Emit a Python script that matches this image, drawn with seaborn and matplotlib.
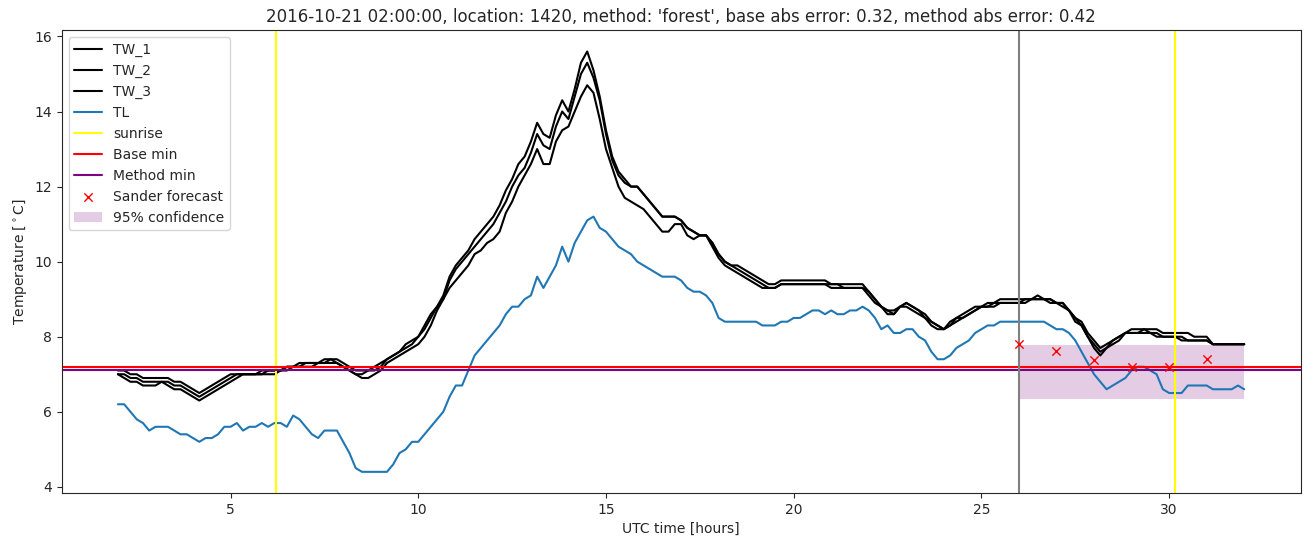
import numpy as np
import pandas as pd
import matplotlib
matplotlib.use("Agg")
import matplotlib.pyplot as plt
import seaborn as sns

# ---- data (10-minute steps from 2.0 h to 32.0 h) ----
t_start, t_end, t_step = 2.0, 32.0, 1 / 6

TW_1 = [
    7.1, 7.1, 7.0, 7.0, 6.9, 6.9,
    6.9, 6.9, 6.9, 6.8, 6.8, 6.7,
    6.6, 6.5, 6.6, 6.7, 6.8, 6.9,
    7.0, 7.0, 7.0, 7.0, 7.0, 7.1,
    7.1, 7.1, 7.1, 7.2, 7.2, 7.3,
    7.3, 7.3, 7.3, 7.4, 7.4, 7.4,
    7.3, 7.2, 7.1, 7.1, 7.1, 7.2,
    7.3, 7.4, 7.5, 7.6, 7.8, 7.9,
    8.0, 8.3, 8.6, 8.8, 9.1, 9.6,
    9.9, 10.1, 10.3, 10.6, 10.8, 11.0,
    11.2, 11.5, 11.9, 12.2, 12.6, 12.8,
    13.2, 13.7, 13.4, 13.3, 13.9, 14.3,
    14.0, 14.6, 15.3, 15.6, 15.1, 14.4,
    13.5, 12.8, 12.4, 12.2, 12.0, 12.0,
    11.8, 11.6, 11.4, 11.2, 11.2, 11.2,
    11.1, 10.9, 10.8, 10.7, 10.7, 10.5,
    10.2, 10.0, 9.9, 9.9, 9.8, 9.7,
    9.6, 9.5, 9.4, 9.4, 9.5, 9.5,
    9.5, 9.5, 9.5, 9.5, 9.5, 9.5,
    9.4, 9.4, 9.4, 9.4, 9.4, 9.4,
    9.2, 9.0, 8.8, 8.7, 8.7, 8.8,
    8.9, 8.8, 8.7, 8.6, 8.4, 8.3,
    8.2, 8.4, 8.5, 8.6, 8.7, 8.8,
    8.8, 8.9, 8.9, 9.0, 9.0, 9.0,
    9.0, 9.0, 9.0, 9.1, 9.0, 9.0,
    8.9, 8.9, 8.7, 8.5, 8.4, 8.1,
    7.9, 7.7, 7.8, 7.9, 8.0, 8.1,
    8.2, 8.2, 8.2, 8.2, 8.2, 8.1,
    8.1, 8.1, 8.1, 8.1, 8.0, 8.0,
    8.0, 7.8, 7.8, 7.8, 7.8, 7.8,
    7.8,
]

TW_2 = [
    7.0, 7.0, 6.9, 6.9, 6.8, 6.8,
    6.8, 6.8, 6.8, 6.7, 6.7, 6.6,
    6.5, 6.4, 6.5, 6.6, 6.7, 6.8,
    6.9, 7.0, 7.0, 7.0, 7.0, 7.0,
    7.1, 7.1, 7.1, 7.2, 7.2, 7.2,
    7.3, 7.3, 7.3, 7.3, 7.4, 7.3,
    7.2, 7.1, 7.0, 7.0, 7.1, 7.1,
    7.2, 7.4, 7.5, 7.6, 7.7, 7.8,
    8.0, 8.2, 8.5, 8.8, 9.0, 9.5,
    9.8, 10.0, 10.2, 10.4, 10.6, 10.8,
    11.0, 11.3, 11.6, 12.0, 12.3, 12.5,
    12.9, 13.4, 13.1, 13.0, 13.6, 14.0,
    13.8, 14.4, 15.0, 15.3, 14.9, 14.3,
    13.4, 12.7, 12.3, 12.1, 12.0, 12.0,
    11.8, 11.6, 11.4, 11.2, 11.2, 11.2,
    11.1, 10.9, 10.8, 10.7, 10.7, 10.5,
    10.2, 10.0, 9.9, 9.8, 9.7, 9.6,
    9.5, 9.4, 9.3, 9.3, 9.4, 9.4,
    9.4, 9.4, 9.4, 9.4, 9.4, 9.4,
    9.4, 9.4, 9.3, 9.3, 9.3, 9.3,
    9.2, 9.0, 8.8, 8.7, 8.6, 8.8,
    8.9, 8.8, 8.7, 8.5, 8.4, 8.3,
    8.2, 8.3, 8.4, 8.5, 8.6, 8.7,
    8.8, 8.8, 8.9, 8.9, 8.9, 8.9,
    8.9, 9.0, 9.0, 9.0, 9.0, 9.0,
    8.9, 8.9, 8.7, 8.5, 8.3, 8.0,
    7.8, 7.6, 7.7, 7.9, 8.0, 8.1,
    8.1, 8.1, 8.2, 8.1, 8.1, 8.0,
    8.0, 8.0, 8.0, 7.9, 7.9, 7.9,
    7.9, 7.8, 7.8, 7.8, 7.8, 7.8,
    7.8,
]

TW_3 = [
    7.0, 6.9, 6.8, 6.8, 6.7, 6.7,
    6.7, 6.8, 6.7, 6.6, 6.6, 6.5,
    6.4, 6.3, 6.4, 6.5, 6.6, 6.7,
    6.8, 6.9, 7.0, 7.0, 7.0, 7.0,
    7.0, 7.0, 7.1, 7.1, 7.2, 7.2,
    7.2, 7.2, 7.3, 7.3, 7.3, 7.3,
    7.2, 7.1, 7.0, 6.9, 6.9, 7.0,
    7.1, 7.3, 7.4, 7.5, 7.6, 7.7,
    7.8, 8.0, 8.3, 8.7, 9.0, 9.3,
    9.5, 9.7, 9.9, 10.2, 10.3, 10.5,
    10.6, 10.8, 11.3, 11.6, 12.0, 12.3,
    12.6, 13.0, 12.6, 12.6, 13.2, 13.5,
    13.6, 14.0, 14.4, 14.7, 14.5, 13.8,
    13.0, 12.5, 12.0, 11.7, 11.6, 11.5,
    11.4, 11.2, 11.0, 10.8, 10.8, 11.0,
    11.0, 10.7, 10.6, 10.7, 10.7, 10.4,
    10.1, 9.9, 9.8, 9.7, 9.6, 9.5,
    9.4, 9.3, 9.3, 9.3, 9.4, 9.4,
    9.4, 9.4, 9.4, 9.4, 9.4, 9.4,
    9.3, 9.3, 9.3, 9.3, 9.3, 9.3,
    9.1, 8.9, 8.8, 8.6, 8.6, 8.8,
    8.8, 8.7, 8.6, 8.5, 8.3, 8.2,
    8.2, 8.3, 8.5, 8.5, 8.6, 8.7,
    8.8, 8.8, 8.8, 8.9, 8.9, 8.9,
    8.9, 8.9, 9.0, 9.0, 9.0, 8.9,
    8.9, 8.8, 8.7, 8.4, 8.3, 8.0,
    7.7, 7.5, 7.7, 7.8, 7.9, 8.1,
    8.1, 8.1, 8.1, 8.1, 8.0, 8.0,
    8.0, 8.0, 7.9, 7.9, 7.9, 7.9,
    7.9, 7.8, 7.8, 7.8, 7.8, 7.8,
    7.8,
]

TL = [
    6.2, 6.2, 6.0, 5.8, 5.7, 5.5,
    5.6, 5.6, 5.6, 5.5, 5.4, 5.4,
    5.3, 5.2, 5.3, 5.3, 5.4, 5.6,
    5.6, 5.7, 5.5, 5.6, 5.6, 5.7,
    5.6, 5.7, 5.7, 5.6, 5.9, 5.8,
    5.6, 5.4, 5.3, 5.5, 5.5, 5.5,
    5.2, 4.9, 4.5, 4.4, 4.4, 4.4,
    4.4, 4.4, 4.6, 4.9, 5.0, 5.2,
    5.2, 5.4, 5.6, 5.8, 6.0, 6.4,
    6.7, 6.7, 7.1, 7.5, 7.7, 7.9,
    8.1, 8.3, 8.6, 8.8, 8.8, 9.0,
    9.1, 9.6, 9.3, 9.6, 9.9, 10.4,
    10.0, 10.5, 10.8, 11.1, 11.2, 10.9,
    10.8, 10.6, 10.4, 10.3, 10.2, 10.0,
    9.9, 9.8, 9.7, 9.6, 9.6, 9.6,
    9.5, 9.3, 9.2, 9.2, 9.1, 8.9,
    8.5, 8.4, 8.4, 8.4, 8.4, 8.4,
    8.4, 8.3, 8.3, 8.3, 8.4, 8.4,
    8.5, 8.5, 8.6, 8.7, 8.7, 8.6,
    8.7, 8.6, 8.6, 8.7, 8.7, 8.8,
    8.7, 8.5, 8.2, 8.3, 8.1, 8.1,
    8.2, 8.2, 8.0, 7.9, 7.6, 7.4,
    7.4, 7.5, 7.7, 7.8, 7.9, 8.1,
    8.2, 8.3, 8.3, 8.4, 8.4, 8.4,
    8.4, 8.4, 8.4, 8.4, 8.4, 8.3,
    8.2, 8.2, 8.1, 7.9, 7.6, 7.3,
    7.0, 6.8, 6.6, 6.7, 6.8, 6.9,
    7.1, 7.2, 7.2, 7.1, 7.0, 6.6,
    6.5, 6.5, 6.5, 6.7, 6.7, 6.7,
    6.7, 6.6, 6.6, 6.6, 6.6, 6.7,
    6.6,
]

sunrise_hours = [6.2, 30.15]
forecast_time = 26.0
base_min = 7.2
method_min = 7.1
sander_hours = [26, 27, 28, 29, 30, 31]
sander_values = [7.81, 7.63, 7.39, 7.2, 7.2, 7.41]
conf_hours = [26.0, 32.0]
conf_low = [6.35, 6.35]
conf_high = [7.78, 7.78]

title = "2016-10-21 02:00:00, location: 1420, method: 'forest', base abs error: 0.32, method abs error: 0.42"

# ---- plot ----
sns.set_style("ticks")
plt.rcParams["font.family"] = ["DejaVu Sans"]

hours = np.round(np.arange(len(TL)) * t_step + t_start, 4)
df = pd.DataFrame({"hours": hours, "TW_1": TW_1, "TW_2": TW_2, "TW_3": TW_3, "TL": TL})

fig = plt.figure(figsize=(13.11, 5.47), dpi=100)
ax = fig.add_axes([0.047, 0.099, 0.945, 0.846])

handles = []
for name in ["TW_1", "TW_2", "TW_3"]:
    sns.lineplot(data=df, x="hours", y=name, color="black", lw=1.5,
                 estimator=None, sort=False, ax=ax)
    handles.append(ax.lines[-1])
    handles[-1].set_label(name)
sns.lineplot(data=df, x="hours", y="TL", color="#1f77b4", lw=1.5,
             estimator=None, sort=False, ax=ax)
handles.append(ax.lines[-1])
handles[-1].set_label("TL")

for i, s in enumerate(sunrise_hours):
    l = ax.axvline(s, color="yellow", lw=1.5)
    if i == 0:
        l.set_label("sunrise")
        handles.append(l)

handles.append(ax.axhline(base_min, color="red", lw=1.5, label="Base min"))
handles.append(ax.axhline(method_min, color="purple", lw=1.5, label="Method min"))
ax.axvline(forecast_time, color="gray", lw=1.5)

sns.scatterplot(x=sander_hours, y=sander_values, marker="x", color="red",
                s=36, linewidth=1.0, ax=ax, zorder=3)
sc = ax.collections[-1]
sc.set_label("Sander forecast")
handles.append(sc)

fb = ax.fill_between(conf_hours, conf_low, conf_high, color="purple", alpha=0.2,
                     lw=0, label="95% confidence")
handles.append(fb)

ax.set_xlim(0.5, 33.5)
ax.set_ylim(3.84, 16.17)
ax.set_xticks([5, 10, 15, 20, 25, 30])
ax.set_yticks([4, 6, 8, 10, 12, 14, 16])
ax.set_xlabel("UTC time [hours]")
ax.set_ylabel("Temperature [$^\\circ$C]")
ax.set_title(title, fontsize=12)
ax.legend(handles=handles, labels=[h.get_label() for h in handles], loc="upper left")
for sp in ax.spines.values():
    sp.set_visible(True)
    sp.set_linewidth(0.8)

fig.savefig("out.png", dpi=100)
